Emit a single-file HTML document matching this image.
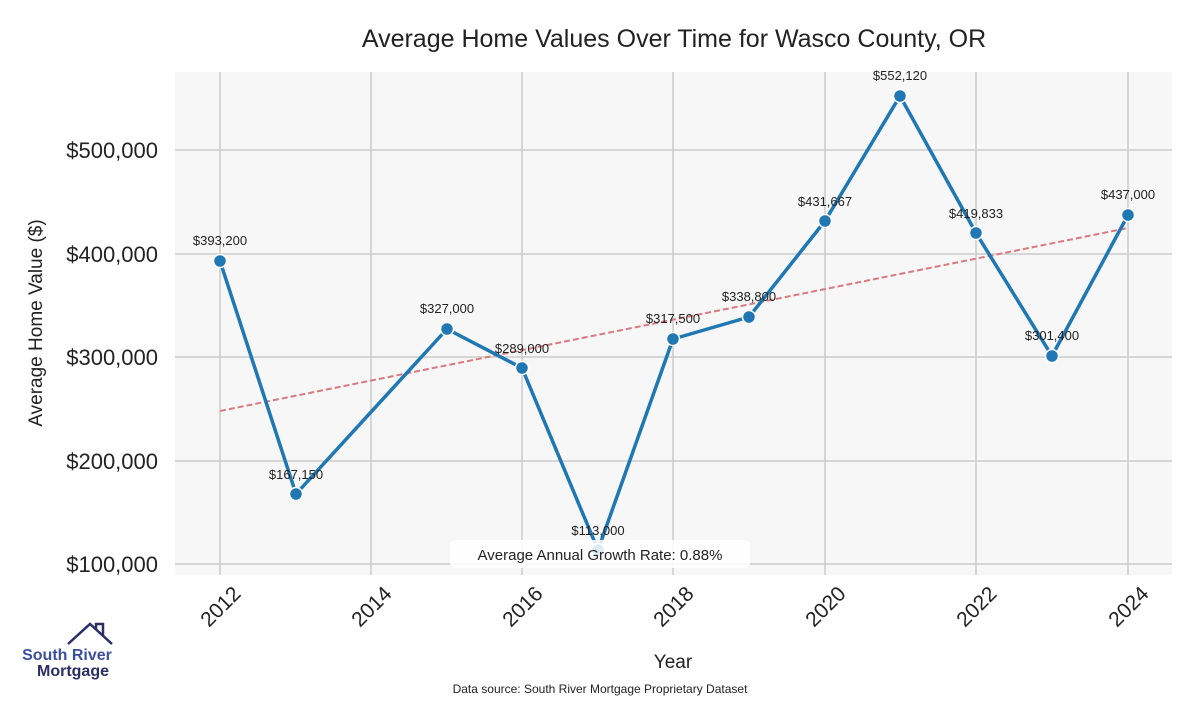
<!DOCTYPE html>
<html><head><meta charset="utf-8"><style>
body{margin:0;background:#fff;width:1200px;height:700px;overflow:hidden;font-family:"Liberation Sans",sans-serif}
</style></head><body>
<svg width="1200" height="700" xmlns="http://www.w3.org/2000/svg" font-family="Liberation Sans, sans-serif">
<rect x="175" y="72" width="997" height="503" fill="#f7f7f7"/>
<g stroke="#cccccc" stroke-width="1.5">
<line x1="220" y1="72" x2="220" y2="575"/><line x1="371" y1="72" x2="371" y2="575"/>
<line x1="522" y1="72" x2="522" y2="575"/><line x1="673" y1="72" x2="673" y2="575"/>
<line x1="825" y1="72" x2="825" y2="575"/><line x1="976" y1="72" x2="976" y2="575"/>
<line x1="1128" y1="72" x2="1128" y2="575"/>
<line x1="175" y1="150" x2="1172" y2="150"/><line x1="175" y1="254" x2="1172" y2="254"/>
<line x1="175" y1="357" x2="1172" y2="357"/><line x1="175" y1="461" x2="1172" y2="461"/>
<line x1="175" y1="564" x2="1172" y2="564"/>
</g>
<text x="674" y="47" text-anchor="middle" font-size="25" fill="#222">Average Home Values Over Time for Wasco County, OR</text>
<g font-size="22" fill="#222" text-anchor="end">
<text x="158" y="158">$500,000</text><text x="158" y="262">$400,000</text>
<text x="158" y="365">$300,000</text><text x="158" y="469">$200,000</text>
<text x="158" y="572">$100,000</text></g>
<text transform="translate(42,323) rotate(-90)" text-anchor="middle" font-size="19" fill="#222">Average Home Value ($)</text>
<g font-size="21" fill="#222" text-anchor="end">
<text transform="translate(242,595) rotate(-45)">2012</text>
<text transform="translate(393,595) rotate(-45)">2014</text>
<text transform="translate(544,595) rotate(-45)">2016</text>
<text transform="translate(695,595) rotate(-45)">2018</text>
<text transform="translate(847,595) rotate(-45)">2020</text>
<text transform="translate(998,595) rotate(-45)">2022</text>
<text transform="translate(1150,595) rotate(-45)">2024</text>
</g>
<text x="673" y="668" text-anchor="middle" font-size="19" fill="#222">Year</text>
<text x="600" y="693" text-anchor="middle" font-size="12" fill="#222">Data source: South River Mortgage Proprietary Dataset</text>
<line x1="220" y1="411" x2="1128" y2="228" stroke="#d97a80" stroke-width="2" stroke-dasharray="6,3"/>
<polyline fill="none" stroke="#1f77b4" stroke-width="3.5" stroke-linejoin="round" points="220,261 296,494 447,329 522,368 598,550 673,339 749,317 825,221 900,96 976,233 1052,356 1128,215"/>
<g fill="#1f77b4" stroke="#fff" stroke-width="1.5">
<circle cx="220" cy="261" r="6.5"/><circle cx="296" cy="494" r="6.5"/><circle cx="447" cy="329" r="6.5"/>
<circle cx="522" cy="368" r="6.5"/><circle cx="598" cy="550" r="6.5"/><circle cx="673" cy="339" r="6.5"/>
<circle cx="749" cy="317" r="6.5"/><circle cx="825" cy="221" r="6.5"/><circle cx="900" cy="96" r="6.5"/>
<circle cx="976" cy="233" r="6.5"/><circle cx="1052" cy="356" r="6.5"/><circle cx="1128" cy="215" r="6.5"/>
</g>
<g font-size="13" fill="#222" text-anchor="middle">
<text x="220" y="245">$393,200</text><text x="296" y="479">$167,150</text><text x="447" y="313">$327,000</text>
<text x="522" y="353">$289,000</text><text x="598" y="535">$113,000</text><text x="673" y="323">$317,500</text>
<text x="749" y="301">$338,800</text><text x="825" y="206">$431,667</text><text x="900" y="80">$552,120</text>
<text x="976" y="218">$419,833</text><text x="1052" y="340">$301,400</text><text x="1128" y="199">$437,000</text>
</g>
<rect x="450" y="540" width="300" height="28" rx="5" fill="#fff" fill-opacity="0.85"/>
<text x="600" y="560" text-anchor="middle" font-size="15" fill="#222">Average Annual Growth Rate: 0.88%</text>
<polyline points="68,644 90,624 112,644" fill="none" stroke="#2a2f66" stroke-width="2.5"/>
<polyline points="96,630 96,624 103,624 103,636" fill="none" stroke="#2a2f66" stroke-width="2.5"/>
<text x="67" y="660" text-anchor="middle" font-size="16" fill="#3b4fa0" font-weight="bold">South River</text>
<text x="73" y="676" text-anchor="middle" font-size="16" fill="#2a2f66" font-weight="bold">Mortgage</text>
</svg>
</body></html>
